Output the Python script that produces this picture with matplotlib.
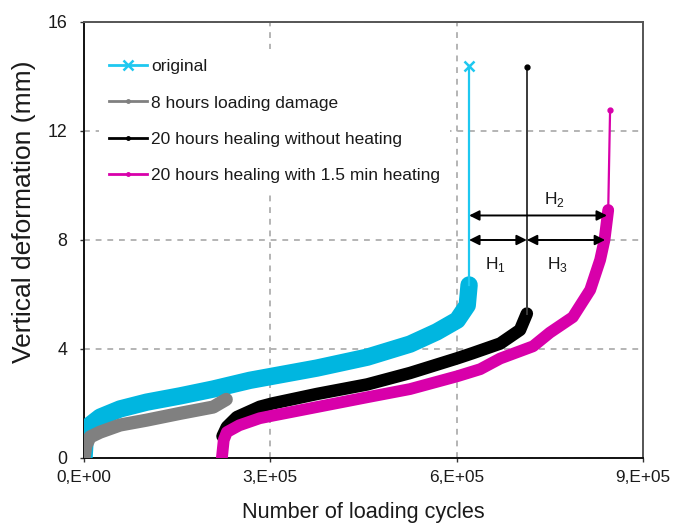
import matplotlib
matplotlib.use("Agg")
import matplotlib.pyplot as plt
from matplotlib.lines import Line2D

plt.rcParams['font.family'] = ['Liberation Sans', 'DejaVu Sans']
plt.rcParams['mathtext.fontset'] = 'custom'
plt.rcParams['mathtext.rm'] = 'Liberation Sans'

# ---------------- data ----------------
orig_x = [0, 1.6e3, 9.7e3, 2.6e4, 5.8e4, 1.01e5, 1.55e5, 2.08e5, 2.67e5, 3.03e5,
          3.75e5, 4.56e5, 5.25e5, 5.68e5, 6.01e5, 6.17e5, 6.2e5]
orig_y = [0, 0.6, 1.21, 1.5, 1.8, 2.05, 2.28, 2.53, 2.85, 3.0,
          3.3, 3.7, 4.18, 4.63, 5.06, 5.6, 6.35]
orig_fail_x = [6.2e5, 6.2e5]
orig_fail_y = [6.35, 14.4]

dmg_x = [0, 3e3, 9.7e3, 2.6e4, 5.8e4, 1.01e5, 1.55e5, 2.08e5, 2.29e5]
dmg_y = [0, 0.45, 0.77, 0.95, 1.21, 1.39, 1.64, 1.87, 2.15]

noheat_x = [2.23e5, 2.30e5, 2.46e5, 2.83e5, 3.03e5, 3.75e5, 4.56e5,
            5.25e5, 6.01e5, 6.26e5, 6.7e5, 7.02e5, 7.13e5]
noheat_y = [0.8, 1.14, 1.5, 1.88, 2.0, 2.35, 2.7,
            3.12, 3.66, 3.85, 4.2, 4.7, 5.3]
noheat_fail_x = [7.13e5, 7.13e5]
noheat_fail_y = [5.3, 14.35]

heat_x = [2.22e5, 2.25e5, 2.3e5, 2.5e5, 2.83e5, 3.03e5, 3.75e5, 4.56e5,
          5.25e5, 6.01e5, 6.38e5, 6.7e5, 7.23e5, 7.5e5, 7.87e5, 8.15e5,
          8.31e5, 8.38e5, 8.44e5]
heat_y = [0, 0.66, 0.95, 1.2, 1.46, 1.55, 1.87, 2.23,
          2.53, 3.0, 3.26, 3.65, 4.1, 4.6, 5.17, 6.17,
          7.27, 8.0, 9.1]
heat_fail_x = [8.44e5, 8.47e5]
heat_fail_y = [9.1, 12.77]

labels = ["original", "8 hours loading damage",
          "20 hours healing without heating",
          "20 hours healing with 1.5 min heating"]

# arrows: (x_start, x_end, y)
arrow_h1 = (6.2e5, 7.13e5, 8.0)
arrow_h3 = (7.13e5, 8.39e5, 8.0)
arrow_h2 = (6.2e5, 8.42e5, 8.9)
h_labels = [r'H$_\mathrm{1}$', r'H$_\mathrm{2}$', r'H$_\mathrm{3}$']
h_label_pos = [(6.63e5, 7.1), (7.58e5, 9.5), (7.62e5, 7.1)]

xticks = [0, 3e5, 6e5, 9e5]
xtick_labels = ["0,E+00", "3,E+05", "6,E+05", "9,E+05"]
yticks = [0, 4, 8, 12, 16]

# ---------------- styles ----------------
c_orig = '#00B6E0'
c_orig_thin = '#1EC8F0'
c_dmg = '#808080'
c_noheat = '#000000'
c_heat = '#D800AA'
txt = '#1a1a1a'

fig = plt.figure(figsize=(6.88, 5.25), dpi=100)
ax = fig.add_axes([0.12209, 0.12762, 0.8125, 0.83048])

ax.plot(orig_x, orig_y, color=c_orig, lw=12.5, solid_capstyle='round',
        solid_joinstyle='round', zorder=3)
ax.plot(orig_fail_x, orig_fail_y, color=c_orig_thin, lw=1.6, zorder=3)
ax.plot(orig_fail_x[-1:], orig_fail_y[-1:], 'x', color=c_orig_thin, ms=7, mew=1.8, zorder=4)

ax.plot(dmg_x, dmg_y, color=c_dmg, lw=9.5, solid_capstyle='round',
        solid_joinstyle='round', zorder=3)

ax.plot(noheat_x, noheat_y, color=c_noheat, lw=9, solid_capstyle='round',
        solid_joinstyle='round', zorder=3)
ax.plot(noheat_fail_x, noheat_fail_y, color='#3a3a3a', lw=1.4, zorder=3)
ax.plot(noheat_fail_x[-1:], noheat_fail_y[-1:], 'o', color=c_noheat, ms=3.5, zorder=4)

ax.plot(heat_x, heat_y, color=c_heat, lw=8.5, solid_capstyle='round',
        solid_joinstyle='round', zorder=3)
ax.plot(heat_fail_x, heat_fail_y, color=c_heat, lw=1.6, zorder=3)
ax.plot(heat_fail_x[-1:], heat_fail_y[-1:], 'o', color=c_heat, ms=3.5, zorder=4)

# arrows
for (xa, xb, ya) in (arrow_h1, arrow_h3, arrow_h2):
    ax.annotate('', xy=(xb, ya), xytext=(xa, ya),
                arrowprops=dict(arrowstyle='<|-|>', color='black', lw=1.4,
                                mutation_scale=15, shrinkA=0, shrinkB=0),
                zorder=5)
for lab, (lx, ly) in zip(h_labels, h_label_pos):
    ax.text(lx, ly, lab, ha='center', va='center', fontsize=12.5, color=txt, zorder=5)

# axes
ax.set_xlim(0, 9e5)
ax.set_ylim(0, 16)
ax.set_xticks(xticks)
ax.set_xticklabels(xtick_labels)
ax.set_yticks(yticks)
ax.tick_params(axis='x', direction='out', length=3, width=1, pad=6,
               labelsize=12.4, labelcolor=txt, color='#333333')
ax.tick_params(axis='y', direction='out', length=3, width=1, pad=9,
               labelsize=12.8, labelcolor=txt, color='#333333')
ax.grid(True, color='#a8a8a8', lw=1.2, linestyle=(0, (3.5, 3.5)), zorder=1)
ax.set_axisbelow(True)
for s in ('left', 'bottom'):
    ax.spines[s].set_color('#111111')
    ax.spines[s].set_linewidth(1.4)
for s in ('top', 'right'):
    ax.spines[s].set_color('#555555')
    ax.spines[s].set_linewidth(1.4)

ax.set_xlabel('Number of loading cycles', fontsize=15.6, color=txt)
ax.set_ylabel('Vertical deformation (mm)', fontsize=19, color=txt)
ax.xaxis.set_label_coords(0.5, -0.1)
ax.yaxis.set_label_coords(-0.085, 0.564)

handles = [
    Line2D([], [], color=c_orig_thin, lw=2, marker='x', ms=7, mew=1.8),
    Line2D([], [], color=c_dmg, lw=2, marker='o', ms=2.5),
    Line2D([], [], color=c_noheat, lw=2, marker='o', ms=2.5),
    Line2D([], [], color=c_heat, lw=2, marker='o', ms=2.5),
]
leg = ax.legend(handles, labels, loc='upper left', bbox_to_anchor=(0.0268, 0.937),
                borderaxespad=0, borderpad=0.55, frameon=True, fancybox=False,
                facecolor='white', edgecolor='none', framealpha=1,
                fontsize=12.5, handlelength=2.2, handletextpad=0.25,
                labelspacing=1.22, markerscale=1)
for t in leg.get_texts():
    t.set_color(txt)
leg.set_zorder(6)

fig.savefig('out.png', dpi=100)
